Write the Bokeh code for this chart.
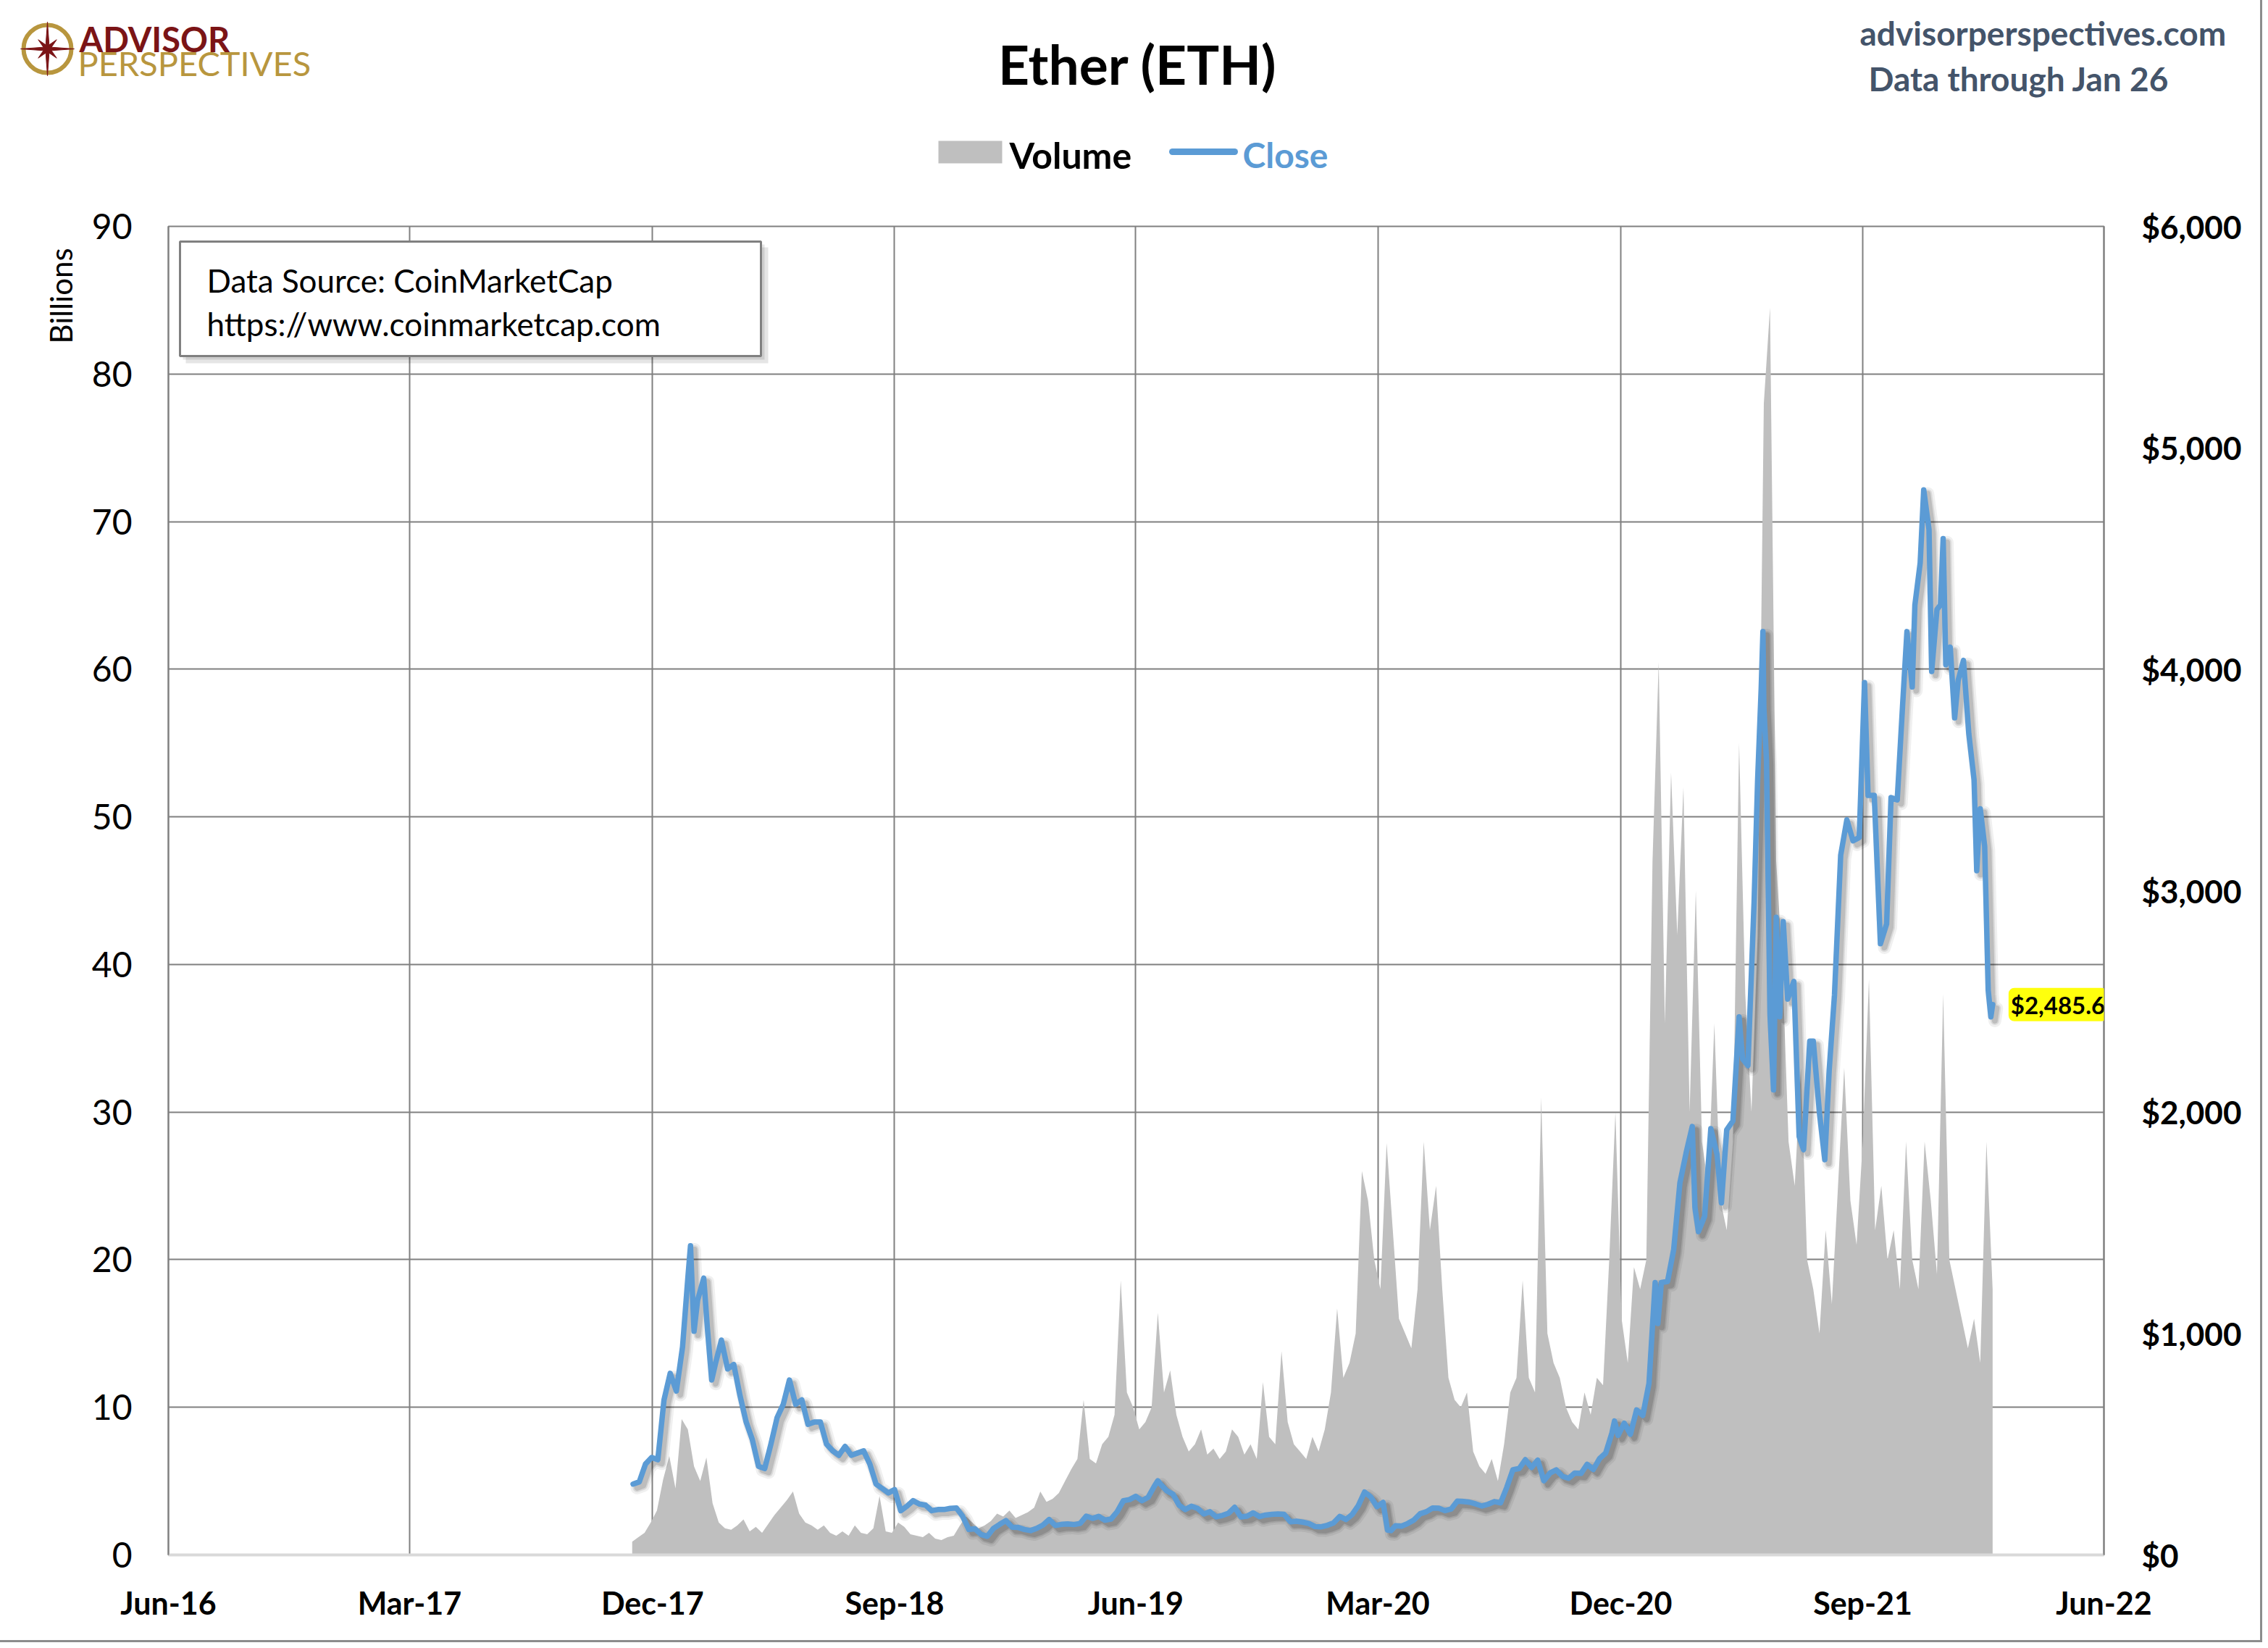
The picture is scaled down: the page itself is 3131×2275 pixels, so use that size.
import math
import pandas as pd
from bokeh.plotting import figure
from bokeh.layouts import column, row
from bokeh.models import (ColumnDataSource, Range1d, LinearAxis, FixedTicker,
                          NumeralTickFormatter, DatetimeTickFormatter, Label)
from bokeh.core.properties import value
from bokeh.embed import file_html
from bokeh.resources import INLINE

# ---------------- data ----------------
price_dates = [
    "2017-11-09", "2017-11-16", "2017-11-23", "2017-11-30", "2017-12-07", "2017-12-14", "2017-12-21",
    "2017-12-28", "2018-01-04", "2018-01-10", "2018-01-13", "2018-01-17", "2018-01-21", "2018-01-28",
    "2018-02-01", "2018-02-06", "2018-02-10", "2018-02-17", "2018-02-24", "2018-03-03", "2018-03-10",
    "2018-03-17", "2018-03-24", "2018-03-31", "2018-04-07", "2018-04-14", "2018-04-21", "2018-04-28",
    "2018-05-05", "2018-05-12", "2018-05-19", "2018-05-26", "2018-06-02", "2018-06-09", "2018-06-16",
    "2018-06-23", "2018-06-30", "2018-07-07", "2018-07-14", "2018-07-21", "2018-07-28", "2018-08-04",
    "2018-08-11", "2018-08-18", "2018-08-25", "2018-09-01", "2018-09-08", "2018-09-15", "2018-09-22",
    "2018-09-29", "2018-10-06", "2018-10-13", "2018-10-20", "2018-10-27", "2018-11-03", "2018-11-10",
    "2018-11-17", "2018-11-24", "2018-12-01", "2018-12-08", "2018-12-15", "2018-12-22", "2018-12-29",
    "2019-01-05", "2019-01-12", "2019-01-19", "2019-01-26", "2019-02-02", "2019-02-09", "2019-02-16",
    "2019-02-23", "2019-03-02", "2019-03-09", "2019-03-16", "2019-03-23", "2019-03-30", "2019-04-06",
    "2019-04-13", "2019-04-20", "2019-04-27", "2019-05-04", "2019-05-11", "2019-05-18", "2019-05-25",
    "2019-06-01", "2019-06-08", "2019-06-15", "2019-06-22", "2019-06-26", "2019-06-29", "2019-07-06",
    "2019-07-13", "2019-07-20", "2019-07-27", "2019-08-03", "2019-08-10", "2019-08-17", "2019-08-24",
    "2019-08-31", "2019-09-07", "2019-09-14", "2019-09-21", "2019-09-28", "2019-10-05", "2019-10-12",
    "2019-10-19", "2019-10-26", "2019-11-02", "2019-11-09", "2019-11-16", "2019-11-23", "2019-11-30",
    "2019-12-07", "2019-12-14", "2019-12-21", "2019-12-28", "2020-01-04", "2020-01-11", "2020-01-18",
    "2020-01-25", "2020-02-01", "2020-02-08", "2020-02-15", "2020-02-22", "2020-02-29", "2020-03-07",
    "2020-03-12", "2020-03-16", "2020-03-21", "2020-03-28", "2020-04-04", "2020-04-11", "2020-04-18",
    "2020-04-25", "2020-05-02", "2020-05-09", "2020-05-16", "2020-05-23", "2020-05-30", "2020-06-06",
    "2020-06-13", "2020-06-20", "2020-06-27", "2020-07-04", "2020-07-11", "2020-07-18", "2020-07-25",
    "2020-08-01", "2020-08-08", "2020-08-15", "2020-08-22", "2020-08-29", "2020-09-05", "2020-09-12",
    "2020-09-19", "2020-09-26", "2020-10-03", "2020-10-10", "2020-10-17", "2020-10-24", "2020-10-31",
    "2020-11-07", "2020-11-14", "2020-11-21", "2020-11-24", "2020-11-28", "2020-12-05", "2020-12-12",
    "2020-12-19", "2020-12-26", "2021-01-02", "2021-01-09", "2021-01-12", "2021-01-16", "2021-01-23",
    "2021-01-30", "2021-02-06", "2021-02-13", "2021-02-20", "2021-02-23", "2021-02-27", "2021-03-06",
    "2021-03-13", "2021-03-20", "2021-03-25", "2021-03-31", "2021-04-07", "2021-04-14", "2021-04-18",
    "2021-04-24", "2021-05-01", "2021-05-05", "2021-05-09", "2021-05-11", "2021-05-12", "2021-05-15",
    "2021-05-19", "2021-05-23", "2021-05-26", "2021-05-30", "2021-06-03", "2021-06-08", "2021-06-15",
    "2021-06-21", "2021-06-26", "2021-07-03", "2021-07-07", "2021-07-14", "2021-07-20", "2021-07-25",
    "2021-07-31", "2021-08-07", "2021-08-14", "2021-08-21", "2021-08-28", "2021-09-03", "2021-09-07",
    "2021-09-14", "2021-09-21", "2021-09-28", "2021-10-03", "2021-10-10", "2021-10-16", "2021-10-21",
    "2021-10-27", "2021-10-30", "2021-11-05", "2021-11-09", "2021-11-15", "2021-11-18", "2021-11-24",
    "2021-11-28", "2021-12-01", "2021-12-04", "2021-12-09", "2021-12-14", "2021-12-18", "2021-12-24",
    "2021-12-30", "2022-01-05", "2022-01-08", "2022-01-12", "2022-01-17", "2022-01-21", "2022-01-24",
    "2022-01-26",
]
closes = [
    320, 330, 410, 440, 430, 700, 820,
    740, 940, 1250, 1396, 1010, 1150, 1250,
    1030, 790, 860, 970, 840, 860, 720,
    600, 520, 400, 390, 500, 620, 680,
    790, 680, 700, 590, 600, 600, 500,
    470, 450, 490, 450, 460, 470, 410,
    320, 300, 280, 295, 200, 220, 245,
    230, 225, 200, 205, 205, 210, 212,
    175, 115, 118, 92, 84, 120, 138,
    155, 125, 124, 115, 110, 120, 135,
    160, 133, 138, 140, 137, 142, 175,
    165, 174, 157, 162, 195, 245, 250,
    265, 245, 260, 310, 335, 320, 290,
    275, 225, 205, 220, 210, 185, 195,
    172, 178, 188, 215, 172, 175, 190,
    173, 180, 183, 185, 183, 150, 152,
    148, 142, 128, 127, 134, 145, 174,
    160, 183, 223, 284, 262, 218, 237,
    112, 110, 132, 130, 142, 158, 186,
    195, 212, 211, 200, 207, 243, 241,
    238, 230, 221, 229, 241, 235, 305,
    385, 390, 430, 395, 428, 335, 370,
    384, 355, 346, 370, 368, 409, 386,
    435, 460, 550, 605, 540, 595, 545,
    655, 630, 775, 1230, 1045, 1230, 1235,
    1380, 1680, 1815, 1935, 1570, 1460, 1530,
    1925, 1810, 1590, 1920, 1960, 2430, 2240,
    2210, 2950, 3500, 3910, 4170, 3830, 3590,
    2440, 2100, 2880, 2430, 2860, 2510, 2590,
    1890, 1830, 2320, 2320, 1995, 1785, 2190,
    2530, 3160, 3320, 3225, 3240, 3940, 3430,
    3430, 2760, 2850, 3420, 3410, 3830, 4170,
    3920, 4290, 4480, 4810, 4630, 3990, 4270,
    4290, 4590, 4020, 4100, 3780, 3950, 4040,
    3710, 3500, 3090, 3370, 3200, 2550, 2430,
    2485.6,
]

# weekly volume in billions, one value per week starting 2017-11-08
volume_start = "2017-11-08"
volume = [
    0.9, 1.2, 1.5, 2.2,
    3.0, 5.1, 6.7, 4.5,
    9.2, 8.5, 6.0, 5.0,
    6.6, 3.5, 2.2, 1.8,
    1.7, 2.0, 2.4, 1.6, 1.9,
    1.5, 2.1, 2.7, 3.2,
    3.7, 4.3, 2.8, 2.2, 2.0,
    1.7, 2.0, 1.5, 1.3,
    1.6, 1.3, 2.0, 1.5,
    1.4, 1.8, 4.0, 1.6, 1.5,
    2.2, 1.9, 1.4, 1.3,
    1.2, 1.5, 1.1, 1.0,
    1.2, 1.3, 2.0, 2.6, 2.2,
    1.8, 2.0, 2.3, 2.8,
    2.6, 3.0, 2.5, 2.7, 2.9,
    3.2, 4.3, 3.6, 3.8,
    4.2, 5.0, 5.8, 6.5,
    10.5, 6.5, 6.2, 7.5,
    8.0, 9.5, 18.6, 11.0, 10.0,
    8.5, 9.0, 10.0, 16.4,
    11.0, 12.5, 9.5, 8.0,
    7.0, 7.5, 8.5, 6.8, 7.2,
    6.5, 7.0, 8.5, 8.0,
    6.8, 7.5, 6.5, 11.7, 8.0,
    7.5, 13.8, 9.0, 7.5,
    7.0, 6.5, 8.0, 7.0,
    8.5, 11.0, 16.7, 12.0, 13.0,
    15.0, 26.0, 24.0, 20.0,
    18.0, 27.9, 22.0, 16.0,
    15.0, 14.0, 18.0, 28.0, 22.0,
    25.0, 18.0, 12.0, 10.5,
    10.0, 11.0, 7.0, 6.0,
    5.5, 6.5, 5.0, 7.5, 11.0,
    12.0, 18.6, 12.0, 11.0,
    31.0, 15.0, 13.0, 12.0,
    10.0, 9.0, 8.5, 11.0, 9.5,
    12.0, 11.5, 20.0, 30.0,
    16.0, 13.0, 19.5, 18.0, 20.0,
    47.0, 60.5, 36.0, 53.0,
    42.0, 52.0, 30.0, 45.0,
    28.0, 25.0, 36.0, 24.0,
    22.0, 28.0, 55.0, 38.0, 30.0,
    42.0, 78.0, 84.5, 47.0,
    40.0, 28.0, 25.0, 33.0,
    20.0, 18.0, 15.0, 22.0, 17.0,
    25.0, 33.0, 24.0, 21.0,
    28.0, 39.0, 22.0, 25.0, 20.0,
    22.0, 18.0, 28.0, 20.0,
    18.0, 28.0, 24.0, 19.0,
    38.0, 20.0, 18.0, 16.0, 14.0,
    16.0, 13.0, 28.0, 18.0,
]

tick_dates = ["2016-06-01", "2017-03-01", "2017-12-01", "2018-09-01", "2019-06-01",
              "2020-03-01", "2020-12-01", "2021-09-01", "2022-06-01"]
vol_ticks = [0, 10, 20, 30, 40, 50, 60, 70, 80, 90]
price_ticks = [0, 1000, 2000, 3000, 4000, 5000, 6000]

title_text = "Ether (ETH)"
legend_labels = ["Volume", "Close"]
source_lines = ["Data Source: CoinMarketCap", "https://www.coinmarketcap.com"]
site_lines = ["advisorperspectives.com", "Data through Jan 26"]
logo_words = ["ADVISOR", "PERSPECTIVES"]
left_title = "Billions"

# ---------------- styles ----------------
FONT = "Lato"
GRID = "#808080"
BLUE = "#5B9BD5"
VOLC = "#BFBFBF"
SLATE = "#44546A"
RED = "#7B1416"
GOLD = "#B8963E"

def ms(d):
    return pd.Timestamp(d).value / 1e6

def no_align(fig):
    if "frame_align" in fig.properties():
        fig.frame_align = False

def blank(fig):
    fig.outline_line_color = None
    fig.xgrid.visible = False
    fig.ygrid.visible = False
    fig.background_fill_color = "white"
    fig.border_fill_color = "white"
    no_align(fig)

W = 3115
HEAD_H = 255
MAIN_H = 2259 - HEAD_H
STRIP_W = 120
FL, FR, FT, FB = 232, 2904, 312, 2146   # frame edges in page pixels
BT = FT - HEAD_H
BB = HEAD_H + MAIN_H - FB
LIFT = 0.24   # text glyph baseline correction, in em

# ---------------- header (page-pixel coordinates) ----------------
hd = figure(width=W, height=HEAD_H, x_range=Range1d(0, W), y_range=Range1d(HEAD_H, 0),
            output_backend="svg", toolbar_location=None,
            x_axis_location=None, y_axis_location=None,
            min_border=0, min_border_left=0, min_border_right=0,
            min_border_top=0, min_border_bottom=0)
blank(hd)

def htext(x, y, t, size, color="black", style="normal", align="left", font=FONT):
    hd.text(x=[x], y=[y - LIFT * size], text=[t], text_font=value(font),
            text_font_size=value(f"{size}px"),
            text_color=color, text_font_style=style, text_align=align,
            text_baseline="alphabetic")

htext(1570, 105, title_text, 75, style="bold", align="center")

# logo: compass ring + 8-point star
cx, cy = 65, 67
hd.scatter(x=[cx], y=[cy], marker="circle", size=66, fill_color=None,
           line_color=GOLD, line_width=6)
sx, sy = [], []
for k in range(16):
    ang = k * math.pi / 8
    r = 37 if k % 4 == 0 else (18 if k % 2 == 0 else 6)
    sx.append(cx + r * math.sin(ang))
    sy.append(cy - r * math.cos(ang))
hd.patch(x=sx, y=sy, fill_color=RED, line_color=RED, line_width=1)
htext(109, 65, logo_words[0], 47, color=RED, style="bold")
htext(107, 98, logo_words[1], 47, color=GOLD)

htext(2567, 56, site_lines[0], 46, color=SLATE, style="bold")
htext(2579, 119, site_lines[1], 46, color=SLATE, style="bold")

hd.quad(left=[1295], right=[1383], top=[194], bottom=[225], fill_color=VOLC, line_color=None)
htext(1393, 225, legend_labels[0], 50, style="bold")
hd.line(x=[1618, 1704], y=[209, 209], line_color=BLUE, line_width=9, line_cap="round")
htext(1715, 225, legend_labels[1], 48, color=BLUE, style="bold")

# ---------------- left strip with the "Billions" title ----------------
st = figure(width=STRIP_W, height=MAIN_H, x_range=Range1d(0, STRIP_W), y_range=Range1d(FB, FT),
            output_backend="svg", toolbar_location=None,
            x_axis_location=None, y_axis_location=None,
            min_border=0, min_border_left=0, min_border_right=0,
            min_border_top=BT, min_border_bottom=BB)
blank(st)
st.text(x=[83], y=[408], text=[left_title], angle=math.pi / 2,
        text_font=value(FONT), text_font_size=value("42px"), text_color="black",
        text_align="center", text_baseline="middle")

# ---------------- main chart ----------------
x0, x1 = ms(tick_dates[0]), ms(tick_dates[-1])
p = figure(width=W - STRIP_W, height=MAIN_H, x_axis_type="datetime",
           x_range=Range1d(x0, x1), y_range=Range1d(0, 90),
           output_backend="svg", toolbar_location=None,
           min_border_left=FL - STRIP_W, min_border_right=W - FR,
           min_border_top=BT, min_border_bottom=BB)
p.background_fill_color = "white"
p.border_fill_color = "white"
p.outline_line_color = GRID
p.outline_line_width = 2
no_align(p)

day_ms = 86400000.0
p.extra_y_ranges = {"price": Range1d(0, 6000), "shadow_y": Range1d(17, 6017),
                    "py": Range1d(FB, FT)}
p.extra_x_ranges = {"shadow_x": Range1d(x0 - 4.5 * day_ms, x1 - 4.5 * day_ms),
                    "px": Range1d(FL, FR)}

vol_dates = pd.date_range(volume_start, periods=len(volume), freq="7D")
vsrc = ColumnDataSource(dict(date=vol_dates, vol=volume))
p.varea(x="date", y1=0, y2="vol", source=vsrc, fill_color=VOLC, fill_alpha=1.0)

psrc = ColumnDataSource(dict(date=pd.to_datetime(price_dates), close=closes))
for w, a in [(18, 0.06), (12, 0.09), (8, 0.13)]:
    p.line(x="date", y="close", source=psrc, x_range_name="shadow_x", y_range_name="shadow_y",
           line_color="#000000", line_alpha=a, line_width=w, line_join="round", line_cap="round")
p.line(x="date", y="close", source=psrc, y_range_name="price",
       line_color=BLUE, line_width=7.5, line_join="round", line_cap="round")

xt = FixedTicker(ticks=[ms(d) for d in tick_dates])
p.xaxis.ticker = xt
p.xgrid.ticker = xt
p.xaxis.formatter = DatetimeTickFormatter(
    milliseconds="%b-%y", seconds="%b-%y", minsec="%b-%y", minutes="%b-%y", hourmin="%b-%y",
    hours="%b-%y", days="%b-%y", months="%b-%y", years="%b-%y")
yt = FixedTicker(ticks=vol_ticks)
p.yaxis.ticker = yt
p.ygrid.ticker = yt

right = LinearAxis(y_range_name="price", ticker=FixedTicker(ticks=price_ticks),
                   formatter=NumeralTickFormatter(format="$0,0"))
p.add_layout(right, "right")

for ax in [p.xaxis[0], p.yaxis[0], right]:
    ax.major_tick_line_color = None
    ax.minor_tick_line_color = None
    ax.major_tick_out = 0
    ax.major_tick_in = 0
    ax.minor_tick_out = 0
    ax.major_label_text_font = FONT
    ax.major_label_text_color = "black"

p.xaxis.major_label_text_font_size = "43px"
p.xaxis.major_label_text_font_style = "bold"
p.xaxis.major_label_standoff = 40
p.xaxis.axis_line_color = "#D9D9D9"
p.xaxis.axis_line_width = 4

left = p.yaxis[0]
left.major_label_text_font_size = "48px"
left.major_label_standoff = 50
left.axis_line_color = GRID
left.axis_line_width = 2

right.major_label_text_font_size = "44px"
right.major_label_text_font_style = "bold"
right.major_label_standoff = 52
right.axis_line_color = GRID
right.axis_line_width = 2

p.xgrid.grid_line_color = GRID
p.xgrid.grid_line_width = 2
p.ygrid.grid_line_color = GRID
p.ygrid.grid_line_width = 2

# data source box (page-pixel coordinates inside the frame)
p.quad(left=[256], right=[1060], top=[341], bottom=[501], x_range_name="px", y_range_name="py",
       fill_color="#000000", fill_alpha=0.10, line_color=None)
p.quad(left=[252], right=[1055], top=[337], bottom=[496], x_range_name="px", y_range_name="py",
       fill_color="#000000", fill_alpha=0.10, line_color=None)
p.quad(left=[248], right=[1050], top=[333], bottom=[491], x_range_name="px", y_range_name="py",
       fill_color="white", line_color=GRID, line_width=3)
p.text(x=[285, 285], y=[397 - LIFT * 44, 457 - LIFT * 44], text=source_lines,
       x_range_name="px", y_range_name="py",
       text_font=value(FONT), text_font_size=value("44px"), text_color="black",
       text_baseline="alphabetic")

last = closes[-1]
p.add_layout(Label(x=ms(price_dates[-1]), y=last, y_range_name="price", x_offset=22,
                   text=f"${last:,.1f}", text_font=FONT, text_font_size="33px",
                   text_font_style="bold", text_color="black", text_baseline="middle",
                   background_fill_color="#FFFF00", background_fill_alpha=0.95,
                   padding=3, border_radius=8))

layout = column(hd, row(st, p, spacing=0), spacing=0)
layout.styles = {"outline": "3px solid #8C8C8C", "outline-offset": "5px"}
open("out.html", "w").write(file_html(layout, INLINE))
